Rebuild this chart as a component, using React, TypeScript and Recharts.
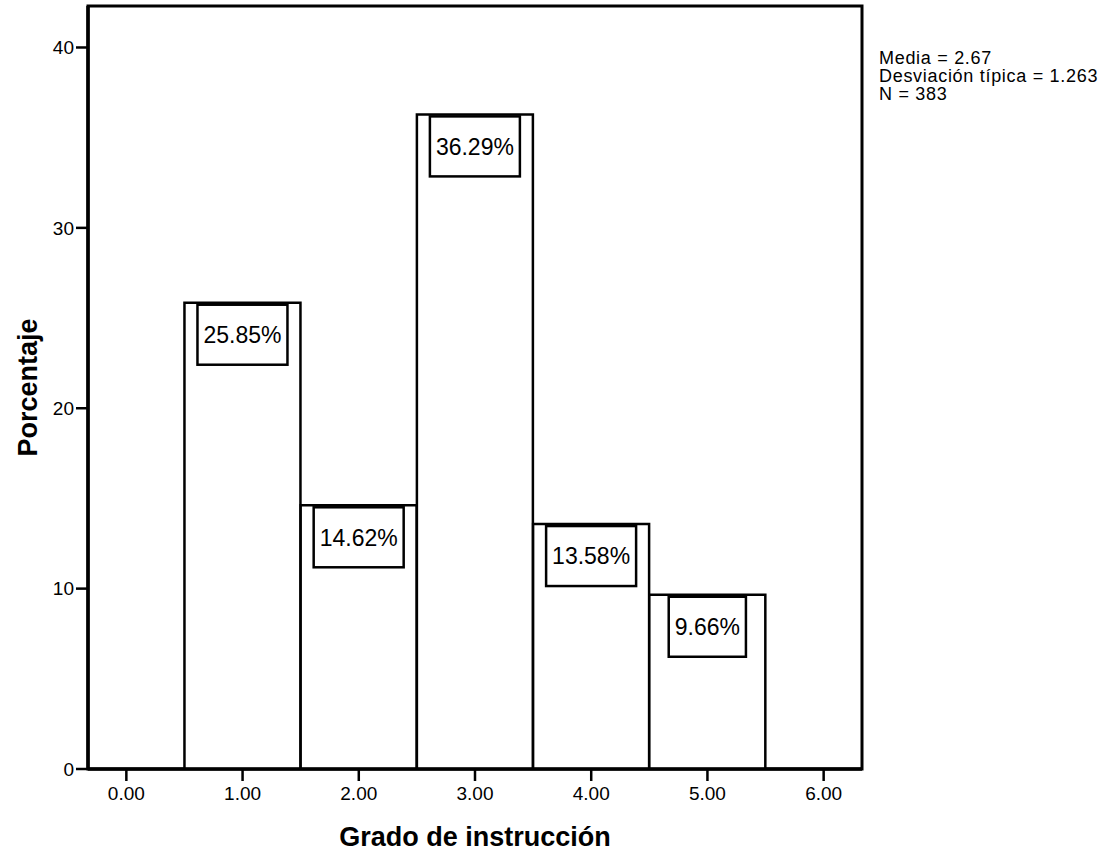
import React from 'react';
import { ComposedChart, Bar, XAxis, YAxis, LabelList, ReferenceArea, Label } from 'recharts';

const categories = [1, 2, 3, 4, 5];
const percentages = [25.85, 14.62, 36.29, 13.58, 9.66];
const xTicks = [0, 1, 2, 3, 4, 5, 6];
const yTicks = [0, 10, 20, 30, 40];
const statsLines = ['Media = 2.67', 'Desviación típica = 1.263', 'N = 383'];
const xAxisTitle = 'Grado de instrucción';
const yAxisTitle = 'Porcentaje';

const X_DOMAIN: [number, number] = [-0.33, 6.33];
const Y_DOMAIN: [number, number] = [0, 42.3];

const data = categories.map((c, i) => ({ x: c, pct: percentages[i] }));

const FONT = 'Arial, "Liberation Sans", Helvetica, sans-serif';

const charWidth = (ch: string): number => {
  if (ch >= '0' && ch <= '9') return 0.556;
  if (ch === '.') return 0.278;
  if (ch === '%') return 0.889;
  return 0.556;
};
const textWidth = (s: string, size: number) =>
  s.split('').reduce((a, ch) => a + charWidth(ch), 0) * size;

const BoxLabel = (props: any) => {
  const { x, y, width, value } = props;
  if (value == null) return null;
  const text = Number(value).toFixed(2) + '%';
  const fs = 23;
  const w = textWidth(text, fs) + 12;
  const h = 60;
  const cx = Number(x) + Number(width) / 2;
  const top = Number(y) + 2;
  return (
    <g>
      <rect x={cx - w / 2} y={top} width={w} height={h} fill="#fff" stroke="#000" strokeWidth={2.5} />
      <text
        x={cx}
        y={top + h / 2 + fs * 0.36}
        textAnchor="middle"
        fontSize={fs}
        fontFamily={FONT}
        fill="#000"
      >
        {text}
      </text>
    </g>
  );
};

export default function App() {
  return (
    <div style={{ position: 'absolute', left: 0, top: 0, width: 1120, height: 851, background: '#fff' }}>
      <ComposedChart
        width={1120}
        height={851}
        data={data}
        margin={{ top: 6, right: 258, bottom: 0, left: 0 }}
        barCategoryGap={0}
        barGap={0}
      >
        <XAxis
          dataKey="x"
          type="number"
          domain={X_DOMAIN}
          ticks={xTicks}
          allowDataOverflow
          height={82}
          tickFormatter={(v: number) => v.toFixed(2)}
          tick={{ fill: '#000', fontSize: 19, fontFamily: FONT }}
          tickSize={12}
          tickMargin={6}
          axisLine={{ stroke: '#000', strokeWidth: 3.5 }}
          tickLine={{ stroke: '#000', strokeWidth: 2.5 }}
          interval={0}
        >
          <Label
            value={xAxisTitle}
            position="insideBottom"
            offset={5}
            style={{ fontSize: 27, fontWeight: 'bold', fontFamily: FONT, fill: '#000' }}
          />
        </XAxis>
        <YAxis
          type="number"
          domain={Y_DOMAIN}
          ticks={yTicks}
          allowDataOverflow
          width={88}
          tick={{ fill: '#000', fontSize: 19, fontFamily: FONT }}
          tickSize={12}
          tickMargin={2}
          axisLine={{ stroke: '#000', strokeWidth: 3.5 }}
          tickLine={{ stroke: '#000', strokeWidth: 2.5 }}
          interval={0}
        >
          <Label
            value={yAxisTitle}
            angle={-90}
            position="insideLeft"
            offset={27}
            style={{ fontSize: 27, fontWeight: 'bold', fontFamily: FONT, fill: '#000', textAnchor: 'middle' }}
          />
        </YAxis>
        <ReferenceArea
          x1={X_DOMAIN[0]}
          x2={X_DOMAIN[1]}
          y1={Y_DOMAIN[0]}
          y2={Y_DOMAIN[1]}
          fill="none"
          fillOpacity={0}
          stroke="#000"
          strokeWidth={3}
          ifOverflow="visible"
        />
        <Bar dataKey="pct" fill="#fff" stroke="#000" strokeWidth={2.5} isAnimationActive={false}>
          <LabelList dataKey="pct" content={BoxLabel} />
        </Bar>
      </ComposedChart>
      <div
        style={{
          position: 'absolute',
          left: 879,
          top: 49,
          fontFamily: FONT,
          fontSize: 18,
          lineHeight: '18px',
          letterSpacing: '0.7px',
          color: '#000',
          whiteSpace: 'nowrap',
        }}
      >
        {statsLines.map((s) => (
          <div key={s}>{s}</div>
        ))}
      </div>
    </div>
  );
}
